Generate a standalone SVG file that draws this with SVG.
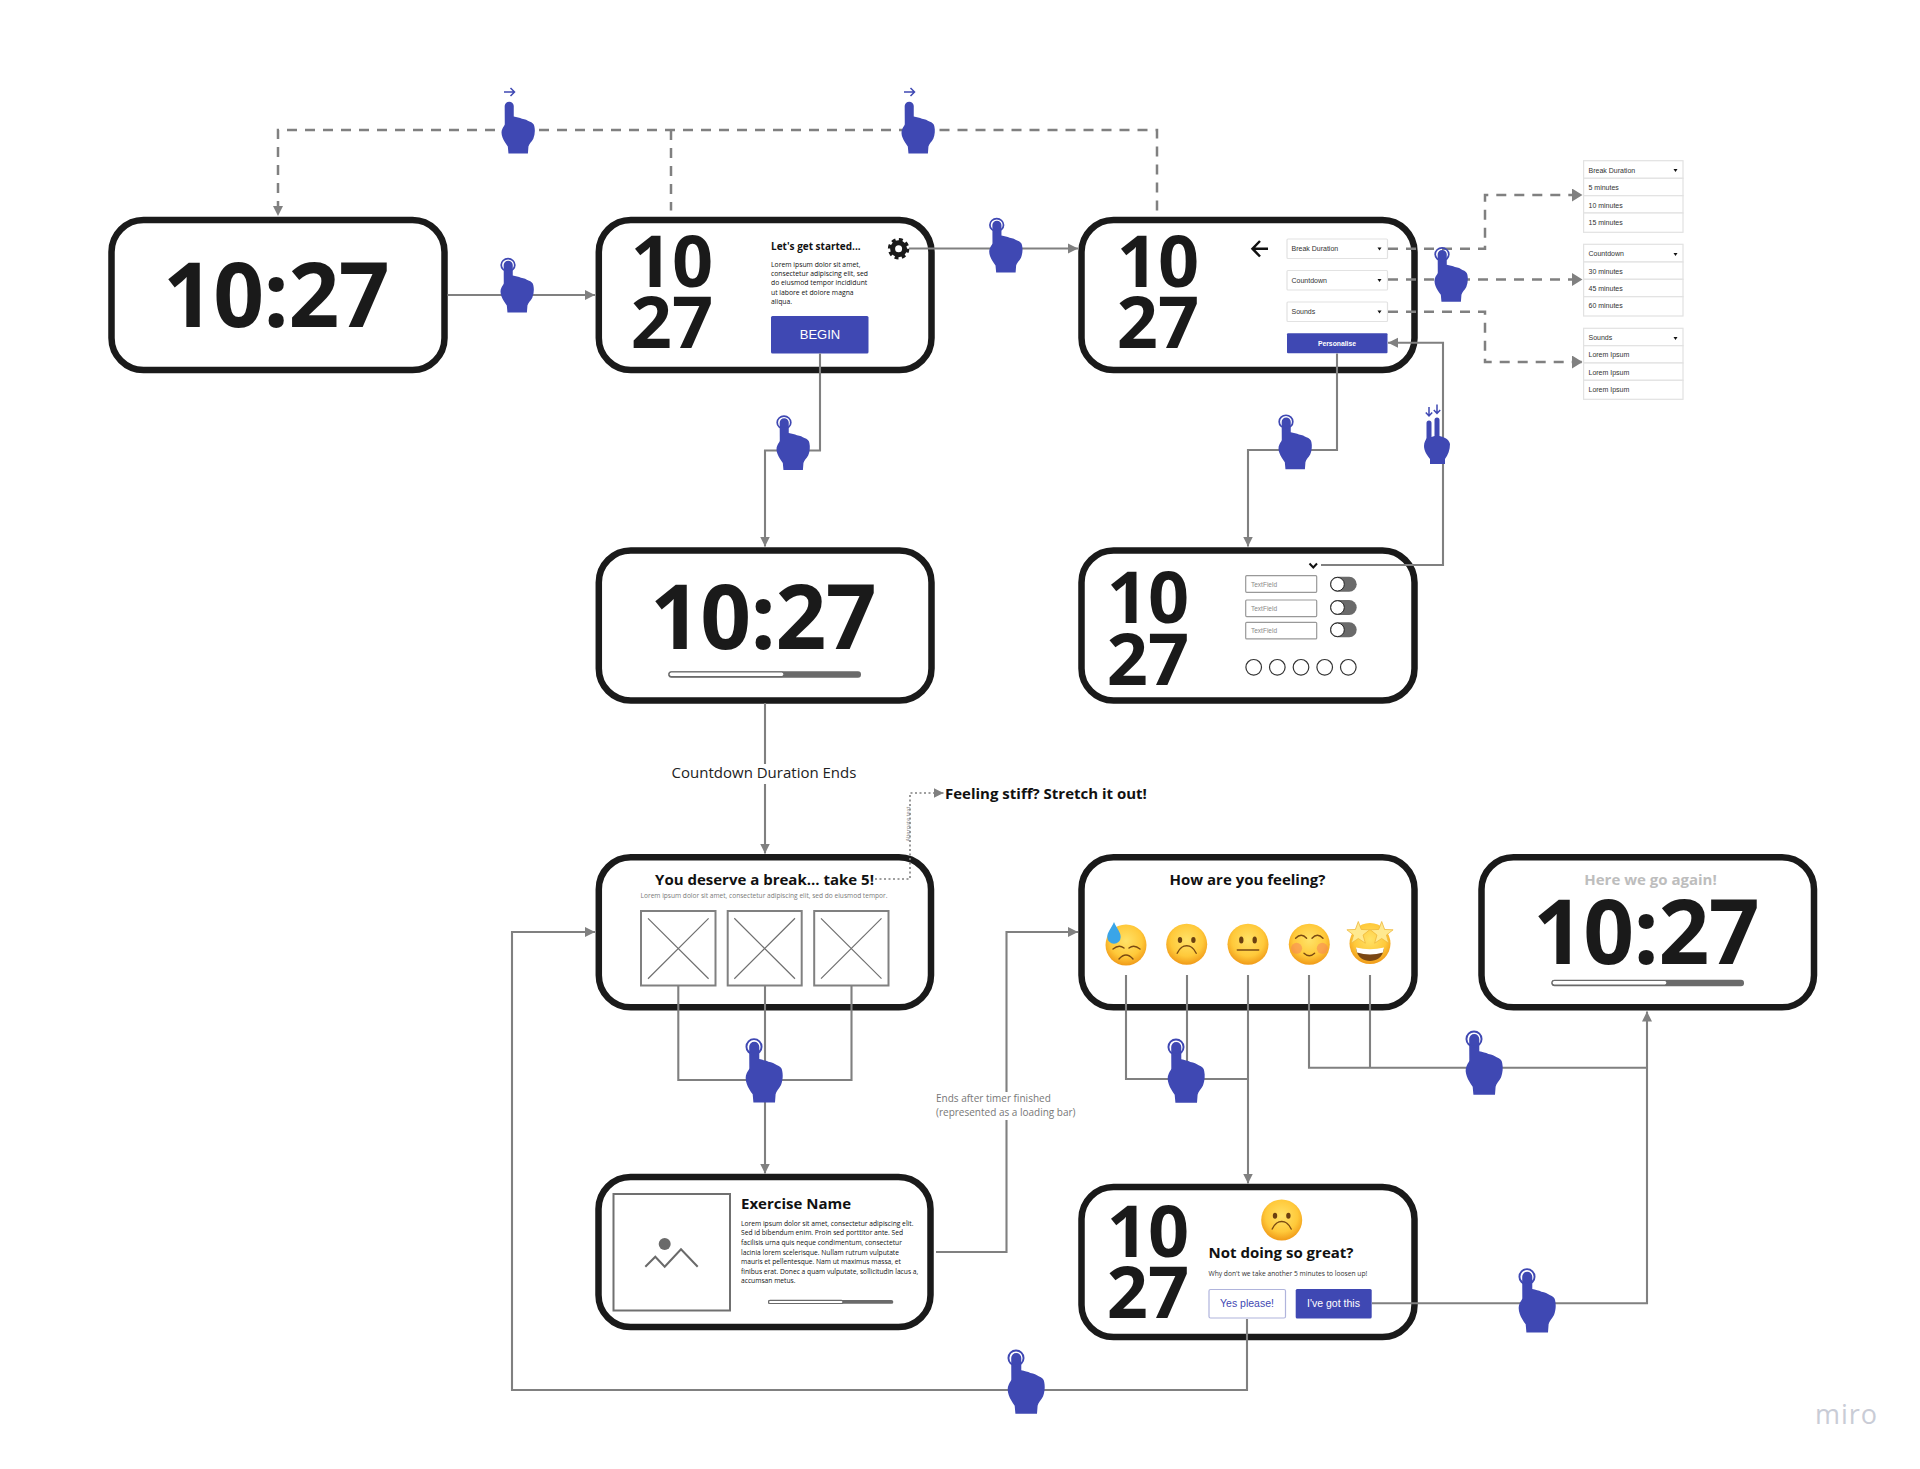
<svg xmlns="http://www.w3.org/2000/svg" xmlns:xlink="http://www.w3.org/1999/xlink" width="1920" height="1469" viewBox="0 0 1920 1469">
<style>
text{font-family:"Open Sans","Noto Sans",sans-serif;fill:#111}
.frame{fill:#fff;stroke:#1a1a1a;stroke-width:6.5}
.big{font-size:89px;font-weight:700;text-anchor:middle;fill:#1a1a1a;letter-spacing:-0.6px}
.stack{font-size:72px;font-weight:700;text-anchor:middle;fill:#1a1a1a}
.line{fill:none;stroke:#808080;stroke-width:2.1}
.dash{fill:none;stroke:#808080;stroke-width:2.5;stroke-dasharray:10 8}
.dot{fill:none;stroke:#808080;stroke-width:1.6;stroke-dasharray:2 2.5}
.ar{marker-end:url(#a)}
.ab{marker-end:url(#b)}
.blue{fill:#3f48b3}
.ring{fill:none;stroke:#3f48b3;stroke-width:1.6}
.sa{fill:none;stroke:#3f48b3;stroke-width:1.5}
.sans{font-family:"Liberation Sans",Arial,sans-serif}
.dd{fill:#fff;stroke:#e2e2e2;stroke-width:1.2}
.ddt{font-family:"Liberation Sans",Arial,sans-serif;font-size:7px;fill:#333}
.car{fill:#111}
.tf{fill:#fff;stroke:#999;stroke-width:1.2}
.tft{font-family:"Liberation Sans",Arial,sans-serif;font-size:6.5px;fill:#888}
.tog{fill:#6a6a6a}
.kn{fill:#fff;stroke:#222;stroke-width:1}
.img{fill:#fff;stroke:#808080;stroke-width:2}
.x{stroke:#707070;stroke-width:1.2}
.track{fill:#6a6a6a}
.fill{fill:#fff;stroke:#6a6a6a;stroke-width:1.2}
.bd{font-weight:700}
.ft{stroke:#7a4a12;fill:none;stroke-width:1.4;stroke-linecap:round}
.fd{fill:#6b4010}
.st{fill:#ffe98f;stroke:#efb83a;stroke-width:.8}
</style>
<defs>
<marker id="a" markerUnits="userSpaceOnUse" markerWidth="11" markerHeight="11" refX="10" refY="5.500" orient="auto"><path d="M0,0.500 L10,5.500 L0,10.500 Z" fill="#808080"/></marker>
<marker id="b" markerUnits="userSpaceOnUse" markerWidth="11" markerHeight="13" refX="10" refY="6.500" orient="auto"><path d="M0,0 L10.500,6.500 L0,13 Z" fill="#808080"/></marker>
<radialGradient id="face" cx="50%" cy="40%" r="60%"><stop offset="0" stop-color="#ffe268"/><stop offset="0.65" stop-color="#ffc93a"/><stop offset="1" stop-color="#f09a18"/></radialGradient>
<symbol id="hand" overflow="visible" viewBox="0 0 1 1" width="1" height="1"><path class="blue" d="M-4,0 A4,4 0 0 1 4.400,0 L4.400,10.300 C7,11 10,11.500 12,12.500 C15,13 17,14 18.900,15.300 C21.500,16 23.300,18 23.500,20 C24.300,24 24,28 22.500,32 C21,35 18.500,37 18,39.700 L17.500,46.500 L-0.500,46.500 L-1.100,39.700 C-3,37 -5,34 -6,31 C-7,28 -7.500,25 -6,22 C-5,20 -4,19 -3.900,18 Z"/></symbol>
<symbol id="tap" overflow="visible" viewBox="0 0 1 1" width="1" height="1"><use href="#hand" width="1" height="1"/><circle class="ring" r="6.300"/></symbol>
<symbol id="emo" overflow="visible" viewBox="0 0 1 1" width="1" height="1"><circle r="20.500" fill="url(#face)"/></symbol>
<path id="star" d="M0,-12 L2.940,-4.050 L11.400,-3.700 L4.760,1.550 L7.050,9.700 L0,5 L-7.050,9.700 L-4.760,1.550 L-11.400,-3.700 L-2.940,-4.050 Z"/>
</defs>
<rect width="1920" height="1469" fill="#fff"/>

<g id="n1"><rect class="frame" x="111.500" y="220" width="333" height="150" rx="32"/><text class="big" x="276" y="327">10:27</text></g>

<g id="n2"><rect class="frame" x="598.800" y="220" width="332.700" height="150" rx="32"/>
<text class="stack" x="672" y="287">10</text><text class="stack" x="672" y="347.500">27</text>
<text x="771" y="249.500" class="bd" font-size="10">Let's get started...</text>
<g font-size="6.800"><text x="771" y="266.700">Lorem ipsum dolor sit amet,</text><text x="771" y="275.700">consectetur adipiscing elit, sed</text><text x="771" y="285">do eiusmod tempor incididunt</text><text x="771" y="295">ut labore et dolore magna</text><text x="771" y="304">aliqua.</text></g>
<rect class="blue" x="771" y="316" width="97.500" height="37.500" rx="1.500"/><text class="sans" x="820" y="339" font-size="13" text-anchor="middle" style="fill:#fff">BEGIN</text>
<g id="gear"><circle cx="898.600" cy="248.700" r="6" fill="none" stroke="#1a1a1a" stroke-width="5"/><circle cx="898.600" cy="248.700" r="9" fill="none" stroke="#1a1a1a" stroke-width="3.500" stroke-dasharray="3.800 3.270"/></g>
</g>

<g id="n3"><rect class="frame" x="1081.500" y="220" width="333" height="150" rx="32"/>
<text class="stack" x="1158" y="287">10</text><text class="stack" x="1158" y="347.500">27</text>
<path d="M1268,248.700 H1253 M1260,241 L1252.500,248.700 L1260,256.500" fill="none" stroke="#111" stroke-width="2.500"/>
<g id="dropdowns"><rect class="dd" x="1287" y="239" width="100.500" height="19.500" rx="1"/><text class="ddt" x="1291.500" y="251">Break Duration</text><path class="car" d="M1377.500,247.500 h4 l-2,3 z"/>
<rect class="dd" x="1287" y="270.500" width="100.500" height="19.500" rx="1"/><text class="ddt" x="1291.500" y="282.500">Countdown</text><path class="car" d="M1377.500,279 h4 l-2,3 z"/>
<rect class="dd" x="1287" y="302" width="100.500" height="19.500" rx="1"/><text class="ddt" x="1291.500" y="314">Sounds</text><path class="car" d="M1377.500,310.500 h4 l-2,3 z"/></g>
<rect class="blue" x="1287" y="333.300" width="100.500" height="20" rx="1"/><text class="sans bd" x="1337" y="345.500" font-size="6.800" text-anchor="middle" style="fill:#fff">Personalise</text>
</g>

<g id="n4"><rect class="frame" x="1081.500" y="550.500" width="333" height="150" rx="32"/>
<text class="stack" x="1148" y="622.500">10</text><text class="stack" x="1148" y="684.500">27</text>
<path d="M1309.500,563.500 L1313.300,567.500 L1317,563.500" fill="none" stroke="#111" stroke-width="2"/>
<rect class="tf" x="1245.700" y="575.700" width="71" height="16.600" rx="1"/><text class="tft" x="1251" y="586.500">TextField</text>
<rect class="tf" x="1245.700" y="600" width="71" height="16.600" rx="1"/><text class="tft" x="1251" y="611">TextField</text>
<rect class="tf" x="1245.700" y="622.300" width="71" height="16.600" rx="1"/><text class="tft" x="1251" y="633">TextField</text>
<rect class="tog" x="1330" y="576.700" width="26.700" height="15" rx="7.500"/><circle class="kn" cx="1337.500" cy="584.200" r="6.800"/>
<rect class="tog" x="1330" y="600" width="26.700" height="15" rx="7.500"/><circle class="kn" cx="1337.500" cy="607.500" r="6.800"/>
<rect class="tog" x="1330" y="622.300" width="26.700" height="15" rx="7.500"/><circle class="kn" cx="1337.500" cy="629.800" r="6.800"/>
<g fill="#fff" stroke="#333" stroke-width="1.200"><circle cx="1253.700" cy="667.300" r="7.800"/><circle cx="1277.300" cy="667.300" r="7.800"/><circle cx="1301" cy="667.300" r="7.800"/><circle cx="1324.700" cy="667.300" r="7.800"/><circle cx="1348.300" cy="667.300" r="7.800"/></g>
</g>

<g id="n5"><rect class="frame" x="598.800" y="550.500" width="332.700" height="150" rx="32"/><text class="big" x="763" y="649">10:27</text>
<rect class="track" x="668.300" y="671.300" width="192.700" height="6.500" rx="3"/><rect class="fill" x="669" y="672" width="115" height="4.600" rx="2.300"/></g>

<g id="lists">
<g id="list1"><rect class="dd" x="1583.600" y="160.700" width="99.400" height="17.600"/><rect class="dd" x="1583.600" y="178.300" width="99.400" height="17.400"/><rect class="dd" x="1583.600" y="195.700" width="99.400" height="17.300"/><rect class="dd" x="1583.600" y="213" width="99.400" height="19.300"/>
<text class="ddt" x="1588.500" y="173">Break Duration</text><path class="car" d="M1673.500,169 h4 l-2,3 z"/><text class="ddt" x="1588.500" y="190">5 minutes</text><text class="ddt" x="1588.500" y="207.500">10 minutes</text><text class="ddt" x="1588.500" y="225">15 minutes</text></g>
<g id="list2"><rect class="dd" x="1583.600" y="244.300" width="99.400" height="17.700"/><rect class="dd" x="1583.600" y="262" width="99.400" height="17.300"/><rect class="dd" x="1583.600" y="279.300" width="99.400" height="17.400"/><rect class="dd" x="1583.600" y="296.700" width="99.400" height="19.300"/>
<text class="ddt" x="1588.500" y="256">Countdown</text><path class="car" d="M1673.500,253 h4 l-2,3 z"/><text class="ddt" x="1588.500" y="274">30 minutes</text><text class="ddt" x="1588.500" y="291">45 minutes</text><text class="ddt" x="1588.500" y="308">60 minutes</text></g>
<g id="list3"><rect class="dd" x="1583.600" y="328.300" width="99.400" height="17.400"/><rect class="dd" x="1583.600" y="345.700" width="99.400" height="17.300"/><rect class="dd" x="1583.600" y="363" width="99.400" height="17.300"/><rect class="dd" x="1583.600" y="380.300" width="99.400" height="19"/>
<text class="ddt" x="1588.500" y="340">Sounds</text><path class="car" d="M1673.500,337 h4 l-2,3 z"/><text class="ddt" x="1588.500" y="357">Lorem Ipsum</text><text class="ddt" x="1588.500" y="375">Lorem Ipsum</text><text class="ddt" x="1588.500" y="392">Lorem Ipsum</text></g>
</g>

<g id="n6"><rect class="frame" x="598.800" y="857.300" width="332.200" height="150" rx="32"/>
<text x="764.500" y="885" class="bd" font-size="15" text-anchor="middle">You deserve a break... take 5!</text>
<text x="764" y="897.700" font-size="6.600" text-anchor="middle" style="fill:#7a7a7a">Lorem ipsum dolor sit amet, consectetur adipiscing elit, sed do eiusmod tempor.</text>
<g id="imgs"><rect class="img" x="641" y="911" width="74.500" height="74.500"/><path class="x" d="M648,918.300 L708.600,978.700 M708.600,918.300 L648,978.700"/>
<rect class="img" x="727.700" y="911" width="74" height="74.500"/><path class="x" d="M734.300,918.300 L795,978.700 M795,918.300 L734.300,978.700"/>
<rect class="img" x="814.200" y="911" width="74.300" height="74.500"/><path class="x" d="M821,918.300 L881.500,978.700 M881.500,918.300 L821,978.700"/></g>
</g>

<g id="n7"><rect class="frame" x="1081.500" y="857.300" width="333" height="150" rx="32"/>
<text x="1247.500" y="885" class="bd" font-size="15" text-anchor="middle">How are you feeling?</text>
<g id="e1" transform="translate(1126,945)"><use href="#emo" width="1" height="1"/><path class="ft" d="M-13,4 Q-7,-1 -2,3 M3,3 Q8,-1 14,4" stroke-width="1.500"/><path class="ft" d="M-7,14 Q0,6 7,14" stroke-width="2.200"/><path d="M-12,-23 C-9,-16 -5.300,-13 -5.300,-8 A6.700,6.700 0 0 1 -18.700,-8 C-18.700,-13 -15,-16 -12,-23 Z" fill="#3aa5e8"/></g>
<g id="e2" transform="translate(1186.700,944.300)"><use href="#emo" width="1" height="1"/><ellipse class="fd" cx="-6.700" cy="-4.300" rx="2.200" ry="3"/><ellipse class="fd" cx="6.700" cy="-4.300" rx="2.200" ry="3"/><path class="ft" d="M-9.500,9 C-6,2 -3,1.500 0,1.500 C3,1.500 6,2 9.500,9"/></g>
<g id="e3" transform="translate(1248,944.300)"><use href="#emo" width="1" height="1"/><ellipse class="fd" cx="-6.700" cy="-4.300" rx="2.200" ry="3.500"/><ellipse class="fd" cx="6.700" cy="-4.300" rx="2.200" ry="3.500"/><path class="ft" d="M-10.700,5.700 H10.700" stroke-width="1.500"/></g>
<g id="e4" transform="translate(1309.300,944.300)"><use href="#emo" width="1" height="1"/><circle cx="-12.700" cy="4" r="5.500" fill="#f5855a" opacity=".55"/><circle cx="13" cy="4" r="5.500" fill="#f5855a" opacity=".55"/><path class="ft" d="M-13.700,-6 Q-8,-12 -2.700,-6 M2.700,-6 Q8,-12 13.700,-6 M-5.300,9 Q0,14 5.300,9"/></g>
<g id="e5" transform="translate(1370,943.500)"><use href="#emo" width="1" height="1"/><path d="M-14,5 Q0,8 14,5 C13,14 6,17.500 0,17.500 C-6,17.500 -13,14 -14,5 Z" fill="#7a4714"/><path d="M-14,4 Q0,7.500 14,4 L13,9 Q0,13 -13,9 Z" fill="#fff"/><use href="#star" class="st" x="-11.700" y="-10"/><use href="#star" class="st" x="11.700" y="-10"/></g>
</g>

<g id="n8"><rect class="frame" x="1481.500" y="857.300" width="332.500" height="150" rx="32"/>
<text x="1650.500" y="885" class="bd" font-size="15" text-anchor="middle" style="fill:#bdbdbd">Here we go again!</text>
<text class="big" x="1646" y="964">10:27</text>
<rect class="track" x="1551.500" y="979.700" width="192.500" height="6.500" rx="3"/><rect class="fill" x="1552" y="980.500" width="115" height="4.600" rx="2.300"/></g>

<g id="n9"><rect class="frame" x="598.500" y="1177" width="332" height="150" rx="32"/>
<rect class="img" x="613.500" y="1194" width="116.500" height="116.500" style="stroke:#707070"/>
<circle cx="664.700" cy="1244" r="6" fill="#6a6a6a"/><path d="M645.300,1266.700 L655.300,1256.700 L664.700,1266.700 L681,1249.300 L697.700,1266.700" fill="none" stroke="#6a6a6a" stroke-width="2"/>
<text x="741" y="1208.500" class="bd" font-size="15">Exercise Name</text>
<g font-size="6.700"><text x="741" y="1226">Lorem ipsum dolor sit amet, consectetur adipiscing elit.</text><text x="741" y="1235.300">Sed id bibendum enim. Proin sed porttitor ante. Sed</text><text x="741" y="1245.300">facilisis urna quis neque condimentum, consectetur</text><text x="741" y="1254.700">lacinia lorem scelerisque. Nullam rutrum vulputate</text><text x="741" y="1264.300">mauris et pellentesque. Nam ut maximus massa, et</text><text x="741" y="1274">finibus erat. Donec a quam vulputate, sollicitudin lacus a,</text><text x="741" y="1283.300">accumsan metus.</text></g>
<rect class="track" x="768" y="1300" width="125.300" height="3.800" rx="1.900"/><rect class="fill" x="768.500" y="1300.300" width="74.500" height="3.200" rx="1.600"/></g>

<g id="n10"><rect class="frame" x="1081.500" y="1187" width="333" height="150" rx="32"/>
<text class="stack" x="1148" y="1257">10</text><text class="stack" x="1148" y="1317.500">27</text>
<g transform="translate(1281.700,1220)"><use href="#emo" width="1" height="1"/><ellipse class="fd" cx="-6.700" cy="-4.300" rx="2.200" ry="3"/><ellipse class="fd" cx="6.700" cy="-4.300" rx="2.200" ry="3"/><path class="ft" d="M-9.500,9 C-6,2 -3,1.500 0,1.500 C3,1.500 6,2 9.500,9"/></g>
<text x="1208.500" y="1257.500" class="bd" font-size="15">Not doing so great?</text>
<text x="1208.500" y="1276" font-size="6.700" style="fill:#333">Why don't we take another 5 minutes to loosen up!</text>
<rect x="1209" y="1289.500" width="76.500" height="28.500" rx="1.500" fill="#fff" stroke="#b0b4dc" stroke-width="1.200"/><text class="sans" x="1247" y="1307" font-size="10.500" text-anchor="middle" style="fill:#3f48b3">Yes please!</text>
<rect class="blue" x="1295.700" y="1289" width="76" height="29.500" rx="1.500"/><text class="sans" x="1333.500" y="1307" font-size="10.500" text-anchor="middle" style="fill:#fff">I've got this</text>
</g>

<g id="connectors">
<path class="dash ar" d="M909,130 H278 V216"/>
<path class="dash" d="M1157,210.500 V130 H909 M671,130 V210.500"/>
<path class="line ar" d="M447.500,295 H595"/>
<path class="line ar" d="M909,248.500 H1078"/>
<path class="line ar" d="M820,353.500 V450.500 H765 V546.500"/>
<path class="line ar" d="M1337,353.500 V450 H1248 V546.500"/>
<path class="line ar" d="M1321,565 H1443 V342.700 H1388"/>
<path class="dash ab" d="M1388,248.700 H1485 V195 H1582"/>
<path class="dash ab" d="M1388,279.500 H1582"/>
<path class="dash ab" d="M1388,311.700 H1485 V362 H1582"/>
<path class="line" d="M765,703 V764"/>
<path class="line ar" d="M765,784 V853.500"/>
<path class="dot ar" d="M875,879 H910 V793 H943.500"/>
<path class="line" d="M678.300,986 V1080 H851.500 V986"/>
<path class="line ar" d="M765,986 V1173.500"/>
<path class="line" d="M936,1252 H1006.500 V1120"/>
<path class="line ar" d="M1006.500,1092 V932 H1078"/>
<path class="line ar" d="M1247,1319 V1390 H512 V932 H595"/>
<path class="line" d="M1126,975 V1079 H1248 M1187,975 V1079"/>
<path class="line ar" d="M1248,975 V1183.500"/>
<path class="line" d="M1309,975 V1067.700 H1647 M1370,975 V1067.700"/>
<path class="line ar" d="M1372,1303.300 H1647 V1011.500"/>
</g>

<text x="764" y="778" font-size="15" text-anchor="middle" style="fill:#222">Countdown Duration Ends</text>
<text x="945" y="799" class="bd" font-size="15">Feeling stiff? Stretch it out!</text>
<text transform="translate(910,824) rotate(-90)" font-size="5.500" text-anchor="middle" style="fill:#888">Alternate text</text>
<text x="936" y="1102" font-size="10" style="fill:#777">Ends after timer finished</text><text x="936" y="1116" font-size="10" style="fill:#777">(represented as a loading bar)</text>

<g id="h1"><use href="#tap" transform="translate(508,265) scale(1.08,1.02)" width="1" height="1"/></g>
<g id="h2"><use href="#hand" transform="translate(509,106) scale(1.08,1.02)" width="1" height="1"/><path class="sa" d="M504,92 H514 M510.500,88 L514.500,92 L510.500,96"/></g>
<g id="h3"><use href="#hand" transform="translate(909,106) scale(1.08,1.02)" width="1" height="1"/><path class="sa" d="M904,92 H914 M910.500,88 L914.500,92 L910.500,96"/></g>
<g id="h4"><use href="#tap" transform="translate(996.700,225) scale(1.08,1.02)" width="1" height="1"/></g>
<g id="h5"><use href="#tap" transform="translate(1442,254.300) scale(1.08,1.02)" width="1" height="1"/></g>
<g id="h6"><use href="#tap" transform="translate(784,422.500) scale(1.08,1.02)" width="1" height="1"/></g>
<g id="h7"><use href="#tap" transform="translate(1286,421.700) scale(1.08,1.02)" width="1" height="1"/></g>
<g id="h8"><path class="blue" d="M1426.500,423 A2.500,2.500 0 0 1 1431.500,423 L1431.500,437 L1434.500,436 L1434.500,420 A2.500,2.500 0 0 1 1439.500,420 L1439.500,436 C1444,437 1449,439 1450,444 C1450,450 1448,455 1445,459 L1445,464 L1430,464 L1430,459 C1427,455 1424,451 1424,446 C1424,442 1426,440 1426.500,438 Z"/><path class="sa" d="M1429,407 V415.500 M1425.800,412.500 L1429,416 L1432.200,412.500 M1437,404.500 V413 M1433.800,410 L1437,413.500 L1440.200,410"/></g>
<g id="h9"><use href="#tap" transform="translate(754,1046.700) scale(1.2)" width="1" height="1"/></g>
<g id="h10"><use href="#tap" transform="translate(1176,1047) scale(1.2)" width="1" height="1"/></g>
<g id="h11"><use href="#tap" transform="translate(1474,1039) scale(1.2)" width="1" height="1"/></g>
<g id="h12"><use href="#tap" transform="translate(1527,1276.700) scale(1.2)" width="1" height="1"/></g>
<g id="h13"><use href="#tap" transform="translate(1016,1358) scale(1.2)" width="1" height="1"/></g>

<text x="1815" y="1424" font-size="27" style="fill:#c9ccd6;letter-spacing:1px">miro</text>
</svg>
